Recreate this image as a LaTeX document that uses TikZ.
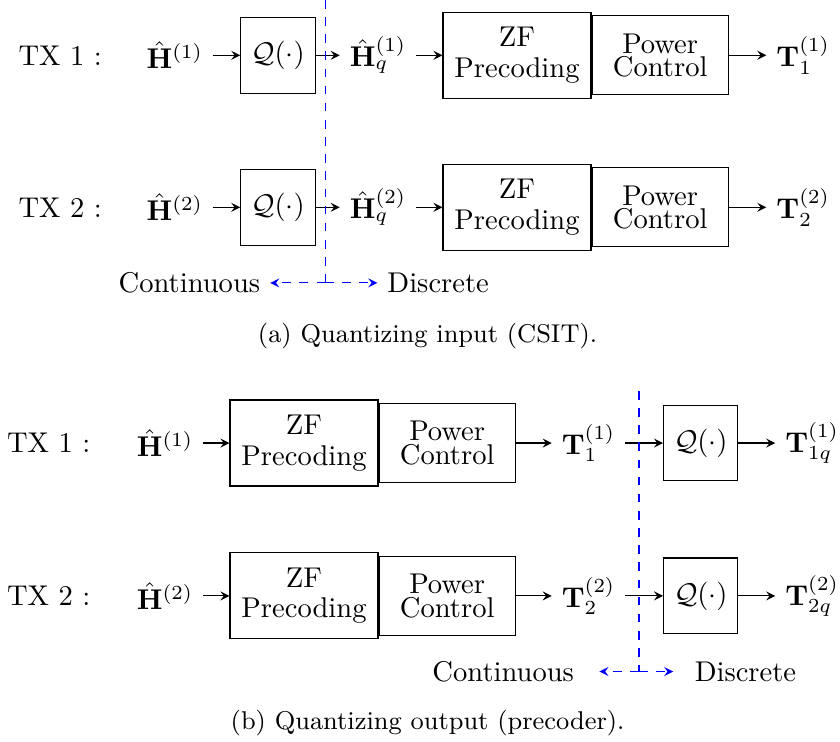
\documentclass[tikz,border=0pt]{standalone}
\usetikzlibrary{positioning}
\begin{document}
\begin{tikzpicture}[
        qblk/.style = {draw, minimum width=26pt, minimum height=26.5pt, inner sep=1pt},
        zfblk/.style = {draw, align=center, inner sep=2pt, minimum width=51.8pt, minimum height=30.1pt},
        pcblk/.style = {draw, align=center, inner sep=2pt, minimum width=47.6pt, minimum height=27.7pt},
        sig/.style = {-stealth},
        cutline/.style = {blue, dashed},
        cutarrow/.style = {blue, dashed, -stealth}
    ]
            \useasboundingbox (0,0) rectangle (10.333,-9.127);

            % (a) quantizing the input
            \node (txa1) at (0.74,-0.68) {TX 1 :};
            \node (ha1) at (2.15,-0.68) {$\hat{\mathbf{H}}^{(1)}$};
            \node[qblk] (qa1) at (3.42,-0.68) {$\mathcal{Q}(\cdot)$};
            \node (hqa1) at (4.65,-0.68) {$\hat{\mathbf{H}}_q^{(1)}$};
            \node[zfblk] (zfa1) at (6.36,-0.68) {ZF\\[-1.3pt]Precoding};
            \node[pcblk, right=0pt of zfa1] (pca1) {Power\\[-3.8pt]Control};
            \node (ta1) at (9.88,-0.68) {$\mathbf{T}_1^{(1)}$};

            \node (txa2) at (0.74,-2.55) {TX 2 :};
            \node (ha2) at (2.15,-2.55) {$\hat{\mathbf{H}}^{(2)}$};
            \node[qblk] (qa2) at (3.42,-2.55) {$\mathcal{Q}(\cdot)$};
            \node (hqa2) at (4.65,-2.55) {$\hat{\mathbf{H}}_q^{(2)}$};
            \node[zfblk] (zfa2) at (6.36,-2.55) {ZF\\[-1.3pt]Precoding};
            \node[pcblk, right=0pt of zfa2] (pca2) {Power\\[-3.8pt]Control};
            \node (ta2) at (9.88,-2.55) {$\mathbf{T}_2^{(2)}$};

            \draw[sig] (ha1) -- (qa1);
            \draw[sig] (qa1) -- (hqa1);
            \draw[sig] (hqa1) -- (zfa1);
            \draw[sig] (pca1) -- (ta1);
            \draw[sig] (ha2) -- (qa2);
            \draw[sig] (qa2) -- (hqa2);
            \draw[sig] (hqa2) -- (zfa2);
            \draw[sig] (pca2) -- (ta2);

            \coordinate (topa) at (4.00,0);
            \coordinate (basea) at (4.00,-3.48);
            \node (conta) at (2.33,-3.48) {Continuous};
            \node (disca) at (5.39,-3.48) {Discrete};
            \draw[cutline] (topa) -- (basea);
            \draw[cutarrow] (basea) -- (conta);
            \draw[cutarrow] (basea) -- (disca);

            \node[font=\small] (capa) at (5.26,-4.13) {(a) Quantizing input (CSIT).};

            % (b) quantizing the output
            \node (txb1) at (0.60,-5.45) {TX 1 :};
            \node (hb1) at (2.03,-5.45) {$\hat{\mathbf{H}}^{(1)}$};
            \node[zfblk] (zfb1) at (3.74,-5.45) {ZF\\[-1.3pt]Precoding};
            \node[pcblk, right=0pt of zfb1] (pcb1) {Power\\[-3.8pt]Control};
            \node (tb1) at (7.24,-5.45) {$\mathbf{T}_1^{(1)}$};
            \node[qblk] (qb1) at (8.62,-5.45) {$\mathcal{Q}(\cdot)$};
            \node (tqb1) at (9.99,-5.45) {$\mathbf{T}_{1q}^{(1)}$};

            \node (txb2) at (0.60,-7.33) {TX 2 :};
            \node (hb2) at (2.03,-7.33) {$\hat{\mathbf{H}}^{(2)}$};
            \node[zfblk] (zfb2) at (3.74,-7.33) {ZF\\[-1.3pt]Precoding};
            \node[pcblk, right=0pt of zfb2] (pcb2) {Power\\[-3.8pt]Control};
            \node (tb2) at (7.24,-7.33) {$\mathbf{T}_2^{(2)}$};
            \node[qblk] (qb2) at (8.62,-7.33) {$\mathcal{Q}(\cdot)$};
            \node (tqb2) at (9.99,-7.33) {$\mathbf{T}_{2q}^{(2)}$};

            \draw[sig] (hb1) -- (zfb1);
            \draw[sig] (pcb1) -- (tb1);
            \draw[sig] (tb1) -- (qb1);
            \draw[sig] (qb1) -- (tqb1);
            \draw[sig] (hb2) -- (zfb2);
            \draw[sig] (pcb2) -- (tb2);
            \draw[sig] (tb2) -- (qb2);
            \draw[sig] (qb2) -- (tqb2);

            \coordinate (topb) at (7.86,-4.81);
            \coordinate (baseb) at (7.86,-8.26);
            \node (contb) at (6.19,-8.26) {Continuous};
            \node (discb) at (9.17,-8.26) {Discrete};
            \draw[cutline] (topb) -- (baseb);
            \draw[cutarrow, shorten >=5.4pt] (baseb) -- (contb);
            \draw[cutarrow, shorten >=4pt] (baseb) -- (discb);

            \node[font=\small] (capb) at (5.26,-8.89) {(b) Quantizing output (precoder).};
        \end{tikzpicture}
\end{document}
